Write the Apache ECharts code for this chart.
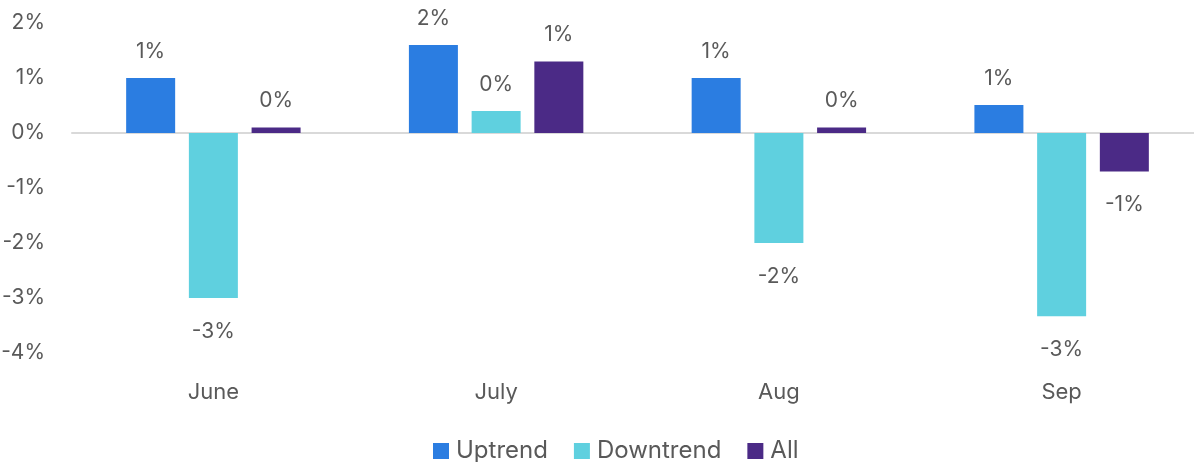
<!DOCTYPE html>
<html>
<head>
<meta charset="utf-8">
<script src="https://cdn.jsdelivr.net/npm/echarts@6/dist/echarts.min.js"></script>
<style>
  html, body { margin: 0; padding: 0; background: #fff; }
  #chart { width: 1194px; height: 462px; }
</style>
</head>
<body>
<div id="chart"></div>
<script>
// values in percent
const months = ["June", "July", "Aug", "Sep"];
const uptrend = [1.0, 1.6, 1.0, 0.51];
const downtrend = [-3.0, 0.4, -2.0, -3.33];
const allTrend = [0.1, 1.3, 0.1, -0.7];

const textColor = "#595959";
const fontFamily = "Inter, Roboto, sans-serif";

// positive values labelled above, negative below
function withLabels(arr) {
  return arr.map(v => ({
    value: v,
    label: v < 0 ? { position: "bottom", distance: 23 } : { position: "top", distance: 16 }
  }));
}

function makeSeries(name, arr, color) {
  return {
    name: name,
    type: "bar",
    data: withLabels(arr),
    barWidth: 49,
    barGap: "28%",
    itemStyle: { color: color },
    label: {
      show: true,
      color: textColor,
      fontSize: 21,
      fontFamily: fontFamily,
      formatter: p => Math.round(p.value) + "%"
    }
  };
}

const chart = echarts.init(document.getElementById("chart"));
chart.setOption({
  animation: false,
  grid: { left: 72, width: 1131, top: 23, bottom: 109, outerBoundsMode: "none" },
  legend: {
    bottom: -6,
    left: 428,
    icon: "rect",
    itemWidth: 16,
    itemHeight: 16,
    itemGap: 26,
    textStyle: { color: textColor, fontSize: 24, fontFamily: fontFamily, padding: [0, 0, 0, 2] }
  },
  xAxis: {
    type: "category",
    data: months,
    axisLine: { onZero: true, lineStyle: { color: "#d9d9d9", width: 2 } },
    axisTick: { show: false },
    axisLabel: { color: textColor, fontSize: 22, fontFamily: fontFamily, margin: 28 }
  },
  yAxis: {
    type: "value",
    min: -4,
    max: 2,
    interval: 1,
    splitLine: { show: false },
    axisLine: { show: false },
    axisTick: { show: false },
    axisLabel: {
      color: textColor,
      fontSize: 21,
      fontFamily: fontFamily,
      margin: 27,
      formatter: v => Math.round(v) + "%"
    }
  },
  series: [
    makeSeries("Uptrend", uptrend, "#2b7de1"),
    makeSeries("Downtrend", downtrend, "#5fd0df"),
    makeSeries("All", allTrend, "#4b2a86")
  ]
});
</script>
</body>
</html>
